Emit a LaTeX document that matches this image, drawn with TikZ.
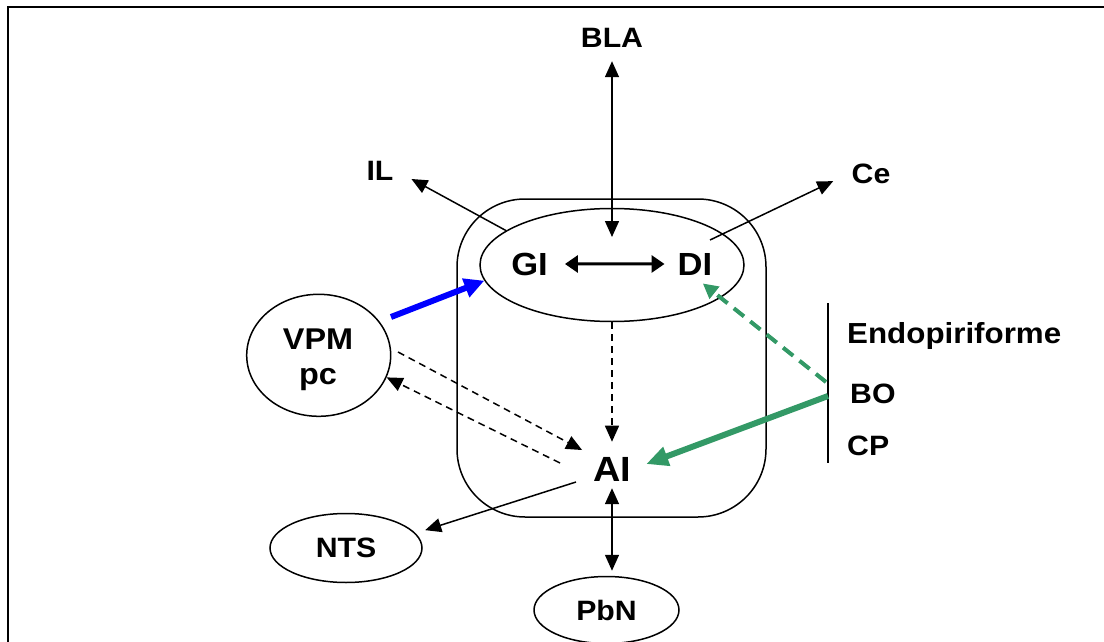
\documentclass[tikz,border=0pt]{standalone}
\usepackage{fontspec}
\setmainfont{Liberation Sans}[FakeStretch=1.08]
\usetikzlibrary{arrows.meta,shapes.geometric}
\definecolor{olfgreen}{RGB}{51,153,102}
\begin{document}
\begin{tikzpicture}[x=1pt,y=-1pt,>={Triangle[length=16pt,width=14pt]},
	lbl/.style={inner sep=2pt,font=\fontsize{28}{34}\selectfont\bfseries},
	big/.style={inner sep=2pt,font=\fontsize{32}{38}\selectfont\bfseries},
	area/.style={draw,ellipse,line width=1.5pt,inner sep=0pt},
	link/.style={line width=1.5pt},
	dsh/.style={link,dash pattern=on 7pt off 5pt}]
	\useasboundingbox (0,0) rectangle (1104,642);
	\clip (0,0) rectangle (1104,642);
	\draw[line width=2pt] (7.5,7.5) rectangle (1140,680);
	\node[draw,line width=1.5pt,rounded corners=68,minimum width=309,minimum height=318,inner sep=0pt] (insula) at (611.5,358) {};
	\node[area,minimum width=264,minimum height=113] (core) at (612,265) {};
	\node[area,minimum width=144,minimum height=122] (vpm) at (318.7,355.3) {};
	\node[lbl,font=\fontsize{30}{35}\selectfont\bfseries,align=center] (vpmtxt) at (318,360) {VPM\\pc};
	\node[area,lbl,inner sep=0pt,minimum width=152,minimum height=69] (nts) at (346,548) {NTS};
	\node[area,lbl,inner sep=0pt,minimum width=145,minimum height=67] (pbn) at (606.5,610) {PbN};
	\node[lbl,anchor=base] (bla) at (612,48) {BLA};
	\node[lbl,anchor=base] (il) at (380,180) {IL};
	\node[lbl,anchor=base] (ce) at (871,183) {Ce};
	\node[big,anchor=base] (gi) at (529.5,275) {GI};
	\node[big,anchor=base] (di) at (695,275) {DI};
	\node[big,font=\fontsize{35}{40}\selectfont\bfseries,anchor=base] (ai) at (612,481) {AI};
	\node[lbl,font=\fontsize{29}{34}\selectfont\bfseries,anchor=base west] (endo) at (845,343) {Endopiriforme};
	\node[lbl,anchor=base west] (bo) at (848,403) {BO};
	\node[lbl,anchor=base west] (cp) at (845,455) {CP};
	\coordinate (olftop) at (828,303);
	\coordinate (olfbot) at (828,463);
	\coordinate (olfup) at (826,382);
	\coordinate (olfdown) at (828,396);
	\coordinate (blain) at (612,237);
	\coordinate (cestart) at (710,240);
	\coordinate (bluetail) at (391,317);
	\coordinate (vpmout) at (398,352);
	\coordinate (aiout) at (560,463);
	\coordinate (aints) at (576,482);
	\draw[line width=1.5pt] (olftop) -- (olfbot);
	\draw[link,<->,shorten <=11pt] (bla.south) -- (blain);
	\draw[link,->,shorten >=18pt] (core.162) -- (il.east);
	\draw[link,->,shorten >=18pt] (cestart) -- (ce.west);
	\draw[line width=3pt,{Triangle[length=13pt,width=17pt]}-{Triangle[length=13pt,width=17pt]},shorten <=15pt,shorten >=11pt] (gi.east) -- (di.west);
	\draw[blue,line width=6pt,-{Triangle[length=20pt,width=19pt]}] (bluetail) -- (core.187);
	\draw[dsh,->,shorten >=13pt] (core.south) -- (ai.north);
	\draw[dsh,->,shorten >=10pt] (vpmout) -- (ai.north west);
	\draw[dsh,->] (aiout) -- (vpm.342);
	\draw[olfgreen,line width=4pt,dash pattern=on 13pt off 8pt,-{Triangle[length=15pt,width=15pt]},shorten >=10pt] (olfup) -- (di.south);
	\draw[olfgreen,line width=6pt,-{Triangle[length=22pt,width=19pt]},shorten >=14pt] (olfdown) -- (ai.east);
	\draw[link,->,shorten >=10pt] (aints) -- (nts.12);
	\draw[link,<->,shorten <=5pt,shorten >=5pt] (ai.south) -- (ai.south |- pbn.north);
\end{tikzpicture}
\end{document}
